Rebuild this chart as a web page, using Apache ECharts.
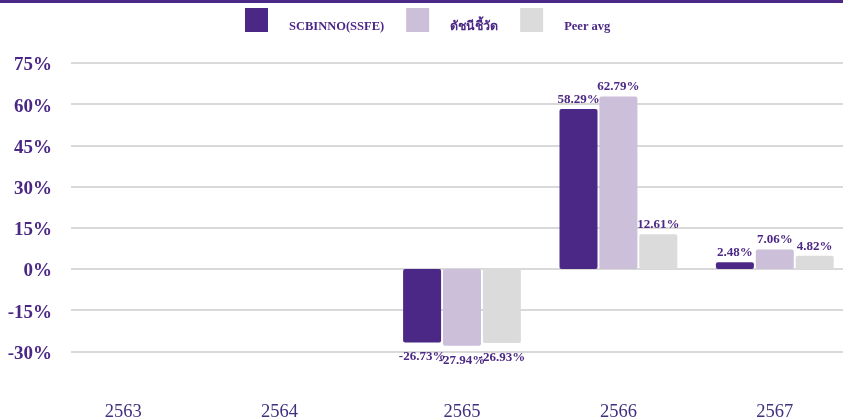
<!DOCTYPE html>
<html>
<head>
<meta charset="utf-8">
<script src="https://cdn.jsdelivr.net/npm/echarts@6/dist/echarts.min.js"></script>
<style>
html, body { margin: 0; padding: 0; background: #fff; }
#chart { width: 843px; height: 420px; }
</style>
</head>
<body>
<div id="chart"></div>
<script>
// ข้อมูลผลตอบแทนรายปี
const years = ['2563', '2564', '2565', '2566', '2567'];
const fundReturn = [null, null, -26.73, 58.29, 2.48];
const benchmark = [null, null, -27.94, 62.79, 7.06];
const peerAvg = [null, null, -26.93, 12.61, 4.82];
const seriesNames = ['SCBINNO(SSFE)', 'ดัชนีชี้วัด', 'Peer avg'];

const purple = '#4B2885';
const colors = [purple, '#CBBFDA', '#DBDBDB'];
const serif = '"Liberation Serif", "Times New Roman", "Noto Sans", serif';

const myChart = echarts.init(document.getElementById('chart'));

function makeSeries(name, data) {
    return {
        name: name,
        type: 'bar',
        // ค่าติดลบให้ป้ายอยู่ใต้แท่ง
        data: data.map(v => (v !== null && v < 0) ? { value: v, label: { position: 'bottom', distance: 8 } } : v),
        barWidth: 38,
        barGap: '5%',
        itemStyle: { borderRadius: 2 },
        label: {
            show: true,
            color: purple,
            fontFamily: serif,
            fontWeight: 'bold',
            fontSize: 13,
            distance: 3,
            position: 'top',
            formatter: p => p.value.toFixed(2) + '%'
        },
        labelLayout: { hideOverlap: false }
    };
}

const option = {
    color: colors,
    animation: false,
    graphic: [{
        type: 'rect',
        shape: { x: 0, y: 0, width: 843, height: 3 },
        style: { fill: purple }
    }],
    legend: {
        left: 245,
        top: 8,
        padding: 0,
        itemWidth: 23,
        itemHeight: 24,
        itemGap: 22,
        icon: 'rect',
        data: seriesNames,
        formatter: '{t|{name}}',
        textStyle: {
            color: purple,
            fontFamily: serif,
            fontWeight: 'bold',
            fontSize: 12.5,
            padding: [0, 0, 0, 16],
            rich: {
                t: { color: purple, fontFamily: serif, fontWeight: 'bold', fontSize: 12.5, padding: [14, 0, 0, 0] }
            }
        }
    },
    grid: {
        left: 71,
        width: 782,
        top: 63,
        bottom: 68.6,
        outerBoundsMode: 'none',
        containLabel: false
    },
    xAxis: {
        type: 'category',
        data: years,
        axisLine: { show: false },
        axisTick: { show: false },
        axisLabel: {
            margin: 51,
            color: '#40307E',
            fontFamily: serif,
            fontSize: 18.5,
            formatter: (v, i) => i < 2 ? '{s|' + v + '}' : v,
            rich: {
                s: { color: '#40307E', fontFamily: serif, fontSize: 18.5, padding: [0, 52, 0, 0] }
            }
        }
    },
    yAxis: {
        type: 'value',
        min: -30,
        max: 75,
        interval: 15,
        axisLine: { show: false },
        axisTick: { show: false },
        splitLine: { lineStyle: { color: '#D9D9D9', width: 2 } },
        axisLabel: {
            margin: 19,
            formatter: '{v|{value}%}',
            rich: {
                v: { color: purple, fontFamily: serif, fontWeight: 'bold', fontSize: 19, padding: [5, 0, 0, 0] }
            }
        }
    },
    series: [
        makeSeries(seriesNames[0], fundReturn),
        makeSeries(seriesNames[1], benchmark),
        makeSeries(seriesNames[2], peerAvg)
    ]
};

myChart.setOption(option);
</script>
</body>
</html>
